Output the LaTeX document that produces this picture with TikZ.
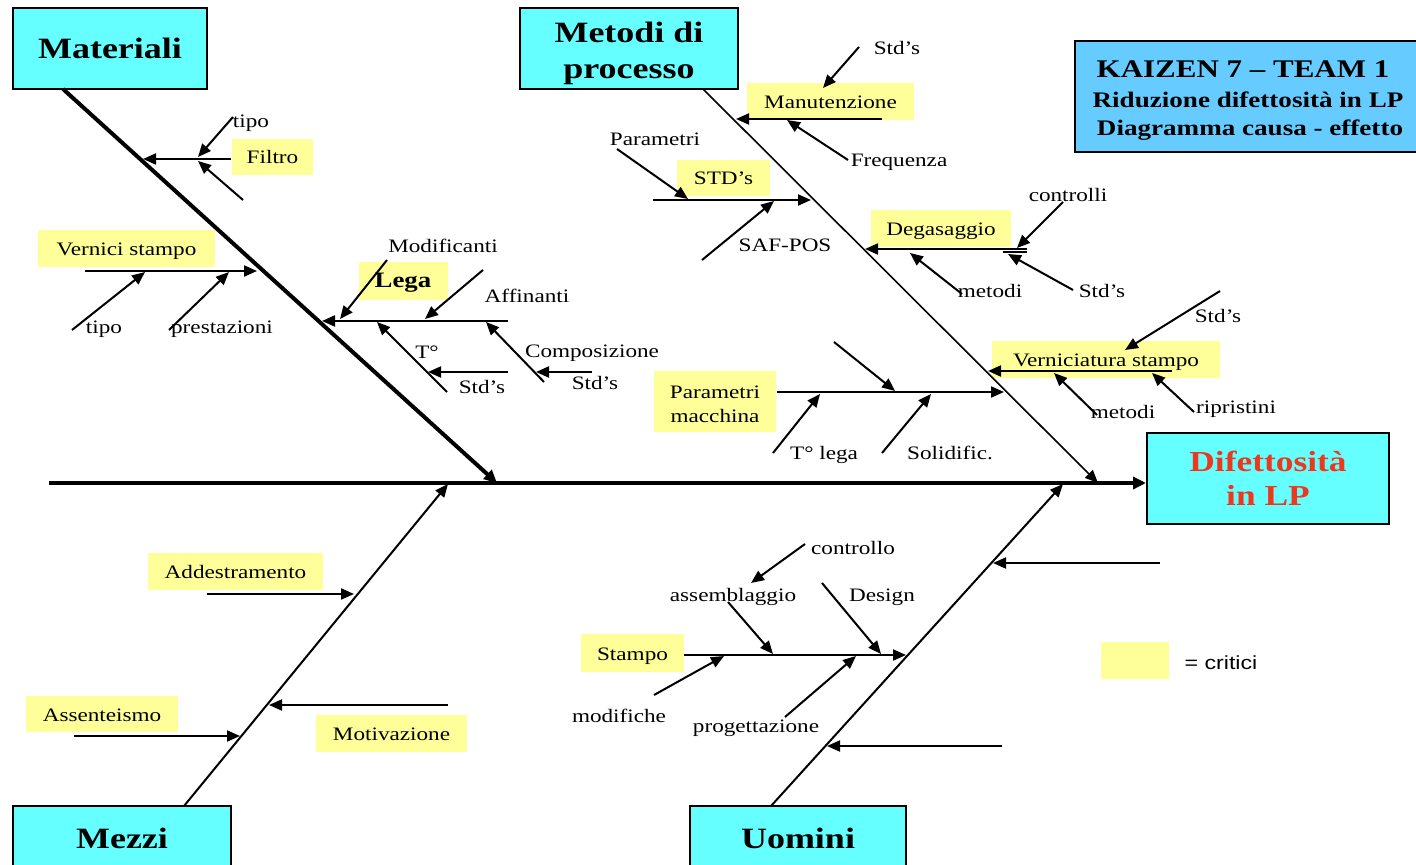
\documentclass[tikz,border=0pt]{standalone}
\usepackage{fontspec}
\setmainfont{Liberation Serif}[FakeStretch=1.22]
\setsansfont{Liberation Sans}[FakeStretch=1.22]
\usetikzlibrary{arrows.meta}
\definecolor{catcyan}{RGB}{102,255,255}
\definecolor{crityellow}{RGB}{255,255,153}
\definecolor{titleblue}{RGB}{102,204,255}
\definecolor{effectred}{RGB}{238,56,30}
\begin{document}
\begin{tikzpicture}[x=0.5pt,y=-0.5pt,
  catbox/.style={draw=black,line width=1pt,fill=catcyan,inner sep=0pt,align=center,
    font=\fontsize{14.75}{18}\selectfont\bfseries},
  cattext/.style={inner sep=0pt,align=center,font=\fontsize{14.75}{18}\selectfont\bfseries},
  crit/.style={fill=crityellow,inner sep=0pt,align=center,text height=0.8em,text depth=0.1em,
    font=\fontsize{9.5}{12}\selectfont},
  lbl/.style={inner sep=0pt,anchor=mid,yshift=-1.25pt,font=\fontsize{9.5}{12}\selectfont},
  tip/.style={-{Triangle[length=6.5pt,width=5.5pt]}},
  spine/.style={line width=2pt,-{Triangle[length=6.5pt,width=6pt]}},
  thickbone/.style={line width=2pt,-{Triangle[length=6.5pt,width=6pt]}},
  bone/.style={line width=1pt,tip},
  thinbone/.style={line width=0.8pt,tip},
  sub/.style={line width=1pt,tip}
]
\useasboundingbox (0,0) rectangle (1416,865);

% ---------- category boxes ----------
\node[catbox,minimum width=97pt,minimum height=40.5pt] (mat) at (110,48.5) {Materiali};
\node[catbox,minimum width=109pt,minimum height=40.5pt] (met) at (629,48.5) {};
\node[cattext] (metT) at (629,53) {Metodi di\\processo};
\node[catbox,minimum width=109pt,minimum height=32pt] (mez) at (122,838) {Mezzi};
\node[catbox,minimum width=108pt,minimum height=32pt] (uom) at (798,838) {Uomini};
\node[catbox,minimum width=121pt,minimum height=45.5pt,text=effectred,
  font=\fontsize{14.5}{17}\selectfont\bfseries] (eff) at (1268,478) {Difettosità\\in LP};

% ---------- title block ----------
\node[draw=black,line width=1pt,fill=titleblue,minimum width=172pt,minimum height=55.5pt] (kz) at (1247,96.5) {};
\node[inner sep=0pt,anchor=mid,font=\fontsize{12.7}{15}\selectfont\bfseries] (kz1) at (1243,73) {KAIZEN 7 – TEAM 1};
\node[inner sep=0pt,anchor=mid,font=\fontsize{11.1}{14}\selectfont\bfseries] (kz2) at (1248,103) {Riduzione difettosità in LP};
\node[inner sep=0pt,anchor=mid,font=\fontsize{11.1}{14}\selectfont\bfseries] (kz3) at (1250,131) {Diagramma causa - effetto};

% ---------- critical causes ----------
\node[crit,minimum width=40.5pt,minimum height=18pt] (filtro) at (272.5,157) {Filtro};
\node[crit,minimum width=88.5pt,minimum height=18.5pt] (vern) at (126.5,248.5) {Vernici stampo};
\node[crit,minimum width=44.5pt,minimum height=19pt,font=\fontsize{11}{13}\selectfont\bfseries] (lega) at (403,281) {Lega};
\node[crit,minimum width=83.5pt,minimum height=18.5pt] (manut) at (830.5,101.5) {Manutenzione};
\node[crit,minimum width=46.5pt,minimum height=18pt] (stds) at (723.5,178) {STD’s};
\node[crit,minimum width=70pt,minimum height=18.5pt] (degas) at (941,228.5) {Degasaggio};
\node[crit,minimum width=114pt,minimum height=18.5pt] (vernst) at (1106,359.5) {Verniciatura stampo};
\node[crit,minimum width=61pt,minimum height=30.5pt,text height=,text depth=] (parmac) at (715,401.5) {};
\node[inner sep=0pt,align=center,font=\fontsize{9.5}{12}\selectfont] (parmacT) at (715,404) {Parametri\\macchina};
\node[crit,minimum width=87.5pt,minimum height=18.5pt] (addes) at (235.5,571.5) {Addestramento};
\node[crit,minimum width=76pt,minimum height=18pt] (assent) at (102,714) {Assenteismo};
\node[crit,minimum width=75.5pt,minimum height=18.5pt] (motiv) at (391.5,733.5) {Motivazione};
\node[crit,minimum width=51.5pt,minimum height=19pt] (stampo) at (632.5,653) {Stampo};
\node[crit,minimum width=34pt,minimum height=18.5pt] (legend) at (1135,660.5) {};
\node[lbl,font=\sffamily\fontsize{9.5}{12}\selectfont] (critici) at (1221,662) {= critici};

% ---------- labels ----------
\node[lbl] (tipoA) at (251,120) {tipo};
\node[lbl] (tipoB) at (104,326) {tipo};
\node[lbl] (prest) at (222,326) {prestazioni};
\node[lbl] (modif) at (443,245) {Modificanti};
\node[lbl] (affin) at (527,295) {Affinanti};
\node[lbl] (tgr) at (427,351) {T°};
\node[lbl] (stdT) at (482,386) {Std’s};
\node[lbl] (compo) at (592,350) {Composizione};
\node[lbl] (stdC) at (595,382) {Std’s};
\node[lbl] (stdM) at (897,47) {Std’s};
\node[lbl] (freq) at (899,159) {Frequenza};
\node[lbl] (param) at (655,138) {Parametri};
\node[lbl] (safpos) at (785,244) {SAF-POS};
\node[lbl] (contr) at (1068,194) {controlli};
\node[lbl] (metD) at (990,290) {metodi};
\node[lbl] (stdD) at (1102,290) {Std’s};
\node[lbl] (stdV) at (1218,315) {Std’s};
\node[lbl] (metV) at (1123,411) {metodi};
\node[lbl] (ripr) at (1236,406) {ripristini};
\node[lbl] (tlega) at (824,452) {T° lega};
\node[lbl] (solid) at (950,452) {Solidific.};
\node[lbl] (contrU) at (853,547) {controllo};
\node[lbl] (assem) at (733,594) {assemblaggio};
\node[lbl] (design) at (882,594) {Design};
\node[lbl] (modifU) at (619,715) {modifiche};
\node[lbl] (proget) at (756,725) {progettazione};

% ---------- spine and main bones ----------
\coordinate (sp0) at (49,483);
\draw[spine] (sp0) -- (sp0 -| eff.west);

\coordinate (mb0) at (63,89);   \coordinate (mb1) at (497,483);
\coordinate (pb0) at (703,89);  \coordinate (pb1) at (1098,483);
\coordinate (zb0) at (184,806); \coordinate (zb1) at (448,484);
\coordinate (ub0) at (771,806); \coordinate (ub1) at (1063,484);
\draw[thickbone] (mb0) -- (mb1);
\draw[thinbone] (pb0) -- (pb1);
\draw[bone] (zb0) -- (zb1);
\draw[bone] (ub0) -- (ub1);

% ---------- Materiali ----------
\coordinate (f0) at (231,159);  \coordinate (f1) at (143,159);
\coordinate (fa0) at (233,117); \coordinate (fa1) at (198,157);
\coordinate (fb0) at (243,200); \coordinate (fb1) at (198,161);
\draw[sub] (f0) -- (f1);
\draw[sub] (fa0) -- (fa1);
\draw[sub] (fb0) -- (fb1);

\coordinate (v0) at (85,271);   \coordinate (v1) at (257,271);
\coordinate (va0) at (72,330);  \coordinate (va1) at (145,272);
\coordinate (vb0) at (169,330); \coordinate (vb1) at (229,272);
\draw[sub] (v0) -- (v1);
\draw[sub] (va0) -- (va1);
\draw[sub] (vb0) -- (vb1);

\coordinate (l0) at (508,321);  \coordinate (l1) at (322,321);
\coordinate (la0) at (387,260); \coordinate (la1) at (340,319);
\coordinate (lb0) at (483,270); \coordinate (lb1) at (425,319);
\coordinate (lc0) at (447,392); \coordinate (lc1) at (377,322);
\coordinate (ld0) at (508,372); \coordinate (ld1) at (428,372);
\coordinate (le0) at (544,382); \coordinate (le1) at (486,322);
\coordinate (lf0) at (592,372); \coordinate (lf1) at (536,372);
\draw[sub] (l0) -- (l1);
\draw[sub] (la0) -- (la1);
\draw[sub] (lb0) -- (lb1);
\draw[sub] (lc0) -- (lc1);
\draw[sub] (ld0) -- (ld1);
\draw[sub] (le0) -- (le1);
\draw[sub] (lf0) -- (lf1);

% ---------- Metodi di processo ----------
\coordinate (m0) at (882,119);  \coordinate (m1) at (736,119);
\coordinate (ma0) at (859,47);  \coordinate (ma1) at (823,88);
\coordinate (mc0) at (848,160); \coordinate (mc1) at (787,120);
\draw[sub] (m0) -- (m1);
\draw[sub] (ma0) -- (ma1);
\draw[sub] (mc0) -- (mc1);

\coordinate (s0) at (653,200);  \coordinate (s1) at (811,200);
\coordinate (sa0) at (617,149); \coordinate (sa1) at (688,199);
\coordinate (sb0) at (702,260); \coordinate (sb1) at (774,201);
\draw[sub] (s0) -- (s1);
\draw[sub] (sa0) -- (sa1);
\draw[sub] (sb0) -- (sb1);

\coordinate (d0) at (1027,249); \coordinate (d1) at (865,249);
\coordinate (dd0) at (1003,252); \coordinate (dd1) at (1027,252);
\coordinate (da0) at (1063,202); \coordinate (da1) at (1017,248);
\coordinate (db0) at (1073,290); \coordinate (db1) at (1008,254);
\coordinate (dc0) at (962,294); \coordinate (dc1) at (910,253);
\draw[sub] (d0) -- (d1);
\draw[line width=1pt] (dd0) -- (dd1);
\draw[sub] (da0) -- (da1);
\draw[sub] (db0) -- (db1);
\draw[sub] (dc0) -- (dc1);

\coordinate (n0) at (1172,371); \coordinate (n1) at (988,371);
\coordinate (na0) at (1220,291); \coordinate (na1) at (1125,350);
\coordinate (nb0) at (1097,415); \coordinate (nb1) at (1054,373);
\coordinate (nc0) at (1194,412); \coordinate (nc1) at (1152,373);
\draw[sub] (n0) -- (n1);
\draw[sub] (na0) -- (na1);
\draw[sub] (nb0) -- (nb1);
\draw[sub] (nc0) -- (nc1);

\coordinate (p0) at (777,392);  \coordinate (p1) at (1004,392);
\coordinate (pa0) at (834,342); \coordinate (pa1) at (895,391);
\coordinate (pc0) at (773,453); \coordinate (pc1) at (820,394);
\coordinate (pd0) at (882,453); \coordinate (pd1) at (931,394);
\draw[sub] (p0) -- (p1);
\draw[sub] (pa0) -- (pa1);
\draw[sub] (pc0) -- (pc1);
\draw[sub] (pd0) -- (pd1);

% ---------- Mezzi ----------
\coordinate (z0) at (207,594);  \coordinate (z1) at (354,594);
\coordinate (zm0) at (448,705); \coordinate (zm1) at (269,705);
\coordinate (zs0) at (74,736);  \coordinate (zs1) at (240,736);
\draw[sub] (z0) -- (z1);
\draw[sub] (zm0) -- (zm1);
\draw[sub] (zs0) -- (zs1);

% ---------- Uomini ----------
\coordinate (u0) at (1160,563); \coordinate (u1) at (993,563);
\coordinate (w0) at (1002,746); \coordinate (w1) at (827,746);
\draw[sub] (u0) -- (u1);
\draw[sub] (w0) -- (w1);

\coordinate (t0) at (684,655);  \coordinate (t1) at (906,655);
\coordinate (ta0) at (805,544); \coordinate (ta1) at (751,583);
\coordinate (tb0) at (728,602); \coordinate (tb1) at (773,654);
\coordinate (tc0) at (822,583); \coordinate (tc1) at (881,654);
\coordinate (td0) at (654,695); \coordinate (td1) at (724,656);
\coordinate (te0) at (785,717); \coordinate (te1) at (856,656);
\draw[sub] (t0) -- (t1);
\draw[sub] (ta0) -- (ta1);
\draw[sub] (tb0) -- (tb1);
\draw[sub] (tc0) -- (tc1);
\draw[sub] (td0) -- (td1);
\draw[sub] (te0) -- (te1);
\end{tikzpicture}
\end{document}
